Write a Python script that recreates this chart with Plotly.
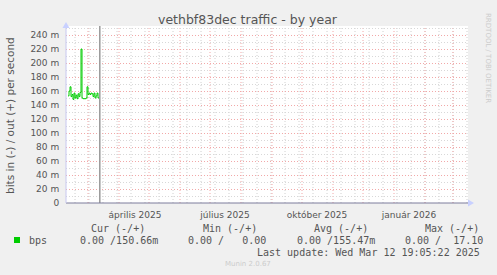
import pandas as pd
import plotly.graph_objects as go

# ---- data ----
start_day = "2025-02-09"
bps_values = [153, 160, 166, 152, 155, 148, 157, 150, 154, 149, 156, 152, 158, 220,
              150, 149, 149, 149, 150, 166, 155, 157, 155, 157, 156, 152, 157, 150,
              153, 157, 150, 150.66]
dates = pd.date_range(start_day, periods=len(bps_values), freq="D")

x_range = ["2025-02-07", "2026-03-16"]
y_tick_vals = list(range(0, 241, 20))
y_tick_text = ["0"] + [f"{v} m" for v in y_tick_vals[1:]]
x_label_dates = ["2025-04-17", "2025-07-16", "2025-10-16", "2026-01-16"]
x_label_text = ["április 2025", "július 2025", "október 2025", "január 2026"]
last_update = "2025-03-12 19:05:22"

title = "vethbf83dec traffic - by year"
y_title = "bits in (-) / out (+) per second"
legend_name = "bps"
col_headers = ["Cur (-/+)", "Min (-/+)", "Avg (-/+)", "Max (-/+)"]
col_values = ["0.00 /150.66m", "0.00 /   0.00", "0.00 /155.47m", "0.00 /  17.10"]
update_text = "Last update: Wed Mar 12 19:05:22 2025"
munin_text = "Munin 2.0.67"
rrd_text = "RRDTOOL / TOBI OETIKER"

W, H = 497, 275
L, R, T, B = 66, 29, 26, 72
pw, ph = W - L - R, H - T - B
y_max = (H - B - T) / 0.7


def px(xp):
    return (xp - L) / pw


def py(yp):
    return (H - B - yp) / ph


fig = go.Figure()
fig.add_trace(go.Scatter(x=dates, y=bps_values, mode="lines",
                         line=dict(color="#00CC00", width=1, shape="hv"),
                         showlegend=False, hoverinfo="skip"))

shapes = []
minor_dates = pd.date_range("2025-02-16", "2026-03-16", freq="14D")
for d in minor_dates:
    shapes.append(dict(type="line", xref="x", yref="paper", x0=d, x1=d, y0=0, y1=1,
                       line=dict(color="#D0D0D0", width=1, dash="1px,2px"), layer="below"))
month_dates = pd.date_range("2025-03-01", "2026-03-01", freq="MS")
for d in month_dates:
    shapes.append(dict(type="line", xref="x", yref="paper", x0=d, x1=d, y0=0, y1=1,
                       line=dict(color="#F2A8A8", width=1, dash="1px,2px"), layer="below"))
# last update marker
shapes.append(dict(type="line", xref="x", yref="paper", x0=last_update, x1=last_update,
                   y0=0, y1=1, line=dict(color="#999999", width=1.5)))
# axes
shapes.append(dict(type="line", xref="paper", yref="paper", x0=0, x1=1, y0=0, y1=0,
                   line=dict(color="#7C7C9C", width=1)))
shapes.append(dict(type="line", xref="paper", yref="paper", x0=0, x1=0, y0=0, y1=1,
                   line=dict(color="#C8C8F0", width=1)))
shapes.append(dict(type="path", xref="paper", yref="paper",
                   path=f"M {px(468)} {py(199.5)} L {px(474)} {py(203)} L {px(468)} {py(206.5)} Z",
                   fillcolor="#C8D0FF", line=dict(width=0)))
shapes.append(dict(type="path", xref="paper", yref="paper",
                   path=f"M {px(62.5)} {py(28)} L {px(66)} {py(22)} L {px(69.5)} {py(28)} Z",
                   fillcolor="#C8D0FF", line=dict(width=0)))
# legend swatch
shapes.append(dict(type="rect", xref="paper", yref="paper",
                   x0=px(14), x1=px(20), y0=py(243), y1=py(237),
                   fillcolor="#00CC00", line=dict(width=0)))

mono = dict(family="DejaVu Sans Mono", size=10, color="#555555")
ann = []


def text(x, y, s, font, xanchor="left", textangle=0):
    ann.append(dict(x=px(x), y=py(y), xref="paper", yref="paper", text=s.replace(" ", "\u00a0"),
                    showarrow=False, xanchor=xanchor, yanchor="middle", font=font,
                    textangle=textangle))


text(248, 19, title, dict(family="DejaVu Sans", size=12.5, color="#555555"), "center")
text(10, 116, y_title, dict(family="DejaVu Sans", size=10.5, color="#555555"), "center", -90)
text(488, 58, rrd_text, dict(family="DejaVu Sans", size=7, color="#CCCCCC"), "center", 90)
text(27, 240, legend_name, mono)
hdr_x = [89, 201, 312, 423]
val_x = [78, 186, 295, 403]
for hx, h in zip(hdr_x, col_headers):
    text(hx, 228, h, mono)
for vx, v in zip(val_x, col_values):
    text(vx, 240, v, mono)
text(482, 252, update_text, mono, "right")
text(248, 264, munin_text, dict(family="DejaVu Sans", size=7, color="#CCCCCC"), "center")

fig.update_layout(
    width=W, height=H, margin=dict(l=L, r=R, t=T, b=B),
    paper_bgcolor="#F0F0F0", plot_bgcolor="white",
    shapes=shapes, annotations=ann, showlegend=False,
    xaxis=dict(type="date", range=x_range, tickvals=x_label_dates, ticktext=x_label_text,
               showgrid=False, zeroline=False, showline=False, ticks="outside", ticklen=3,
               tickcolor="rgba(0,0,0,0)",
               tickfont=dict(family="DejaVu Sans", size=9, color="#555555")),
    yaxis=dict(range=[0, y_max], tickvals=y_tick_vals, ticktext=y_tick_text,
               showgrid=True, gridcolor="#F2A8A8", griddash="1px,2px", gridwidth=1,
               zeroline=False, showline=False, ticks="outside", ticklen=4,
               tickcolor="rgba(0,0,0,0)",
               tickfont=dict(family="DejaVu Sans", size=9, color="#555555"),
               minor=dict(dtick=10, showgrid=True, gridcolor="#D8D8D8", griddash="1px,2px")),
)
fig.write_html("out.html")
